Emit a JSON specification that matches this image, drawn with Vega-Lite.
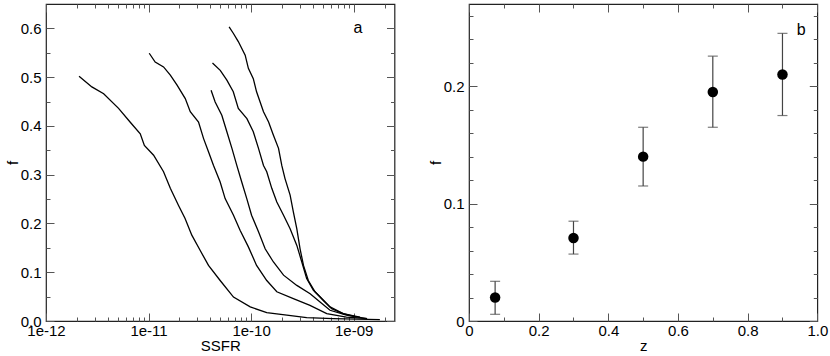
{
  "$schema": "https://vega.github.io/schema/vega-lite/v6.json",
  "padding": {"left": 4, "top": 2, "right": 0, "bottom": 0},
  "background": "white",
  "spacing": 31,
  "config": {
    "view": {"stroke": "#222", "strokeWidth": 1.2},
    "axis": {
      "grid": false, "domain": false, "tickColor": "#555", "tickWidth": 1,
      "labelFont": "Liberation Sans", "labelFontSize": 15, "labelColor": "#000",
      "titleFont": "Liberation Sans", "titleFontSize": 15, "titleFontWeight": "normal", "titleColor": "#000",
      "labelOverlap": false, "labelFlush": false
    }
  },
  "datasets": {
    "curves": [
      {"c": 1, "x": 2.1e-12, "f": 0.502}, {"c": 1, "x": 2.8e-12, "f": 0.480}, {"c": 1, "x": 3.65e-12, "f": 0.466},
      {"c": 1, "x": 5.1e-12, "f": 0.436}, {"c": 1, "x": 6.6e-12, "f": 0.408}, {"c": 1, "x": 8.3e-12, "f": 0.384},
      {"c": 1, "x": 9.1e-12, "f": 0.360}, {"c": 1, "x": 1.12e-11, "f": 0.340}, {"c": 1, "x": 1.4e-11, "f": 0.306},
      {"c": 1, "x": 1.63e-11, "f": 0.272}, {"c": 1, "x": 1.96e-11, "f": 0.237}, {"c": 1, "x": 2.27e-11, "f": 0.210},
      {"c": 1, "x": 2.64e-11, "f": 0.176}, {"c": 1, "x": 3.18e-11, "f": 0.145}, {"c": 1, "x": 3.84e-11, "f": 0.114},
      {"c": 1, "x": 4.99e-11, "f": 0.083}, {"c": 1, "x": 6.73e-11, "f": 0.049}, {"c": 1, "x": 9.8e-11, "f": 0.029},
      {"c": 1, "x": 1.42e-10, "f": 0.017}, {"c": 1, "x": 2.23e-10, "f": 0.012}, {"c": 1, "x": 3.48e-10, "f": 0.007},
      {"c": 1, "x": 6.3e-10, "f": 0.005}, {"c": 1, "x": 1.8e-9, "f": 0.003},

      {"c": 2, "x": 1.015e-11, "f": 0.549}, {"c": 2, "x": 1.16e-11, "f": 0.531}, {"c": 2, "x": 1.4e-11, "f": 0.521},
      {"c": 2, "x": 1.63e-11, "f": 0.504}, {"c": 2, "x": 1.89e-11, "f": 0.484}, {"c": 2, "x": 2.28e-11, "f": 0.456},
      {"c": 2, "x": 2.55e-11, "f": 0.429}, {"c": 2, "x": 3.07e-11, "f": 0.408}, {"c": 2, "x": 3.44e-11, "f": 0.374},
      {"c": 2, "x": 3.84e-11, "f": 0.347}, {"c": 2, "x": 4.3e-11, "f": 0.319}, {"c": 2, "x": 4.99e-11, "f": 0.285},
      {"c": 2, "x": 5.58e-11, "f": 0.251}, {"c": 2, "x": 6.73e-11, "f": 0.217}, {"c": 2, "x": 7.8e-11, "f": 0.186},
      {"c": 2, "x": 9.4e-11, "f": 0.152}, {"c": 2, "x": 1.13e-10, "f": 0.114}, {"c": 2, "x": 1.42e-10, "f": 0.083},
      {"c": 2, "x": 1.78e-10, "f": 0.060}, {"c": 2, "x": 2.58e-10, "f": 0.046}, {"c": 2, "x": 3.75e-10, "f": 0.032},
      {"c": 2, "x": 5.46e-10, "f": 0.015}, {"c": 2, "x": 8.5e-10, "f": 0.008}, {"c": 2, "x": 1.35e-9, "f": 0.005},

      {"c": 3, "x": 4.07e-11, "f": 0.473}, {"c": 3, "x": 4.46e-11, "f": 0.449}, {"c": 3, "x": 5.18e-11, "f": 0.422},
      {"c": 3, "x": 5.8e-11, "f": 0.388}, {"c": 3, "x": 6.5e-11, "f": 0.354}, {"c": 3, "x": 7.25e-11, "f": 0.319},
      {"c": 3, "x": 8.1e-11, "f": 0.285}, {"c": 3, "x": 9.07e-11, "f": 0.251}, {"c": 3, "x": 1.01e-10, "f": 0.217},
      {"c": 3, "x": 1.18e-10, "f": 0.183}, {"c": 3, "x": 1.37e-10, "f": 0.148}, {"c": 3, "x": 1.65e-10, "f": 0.121},
      {"c": 3, "x": 2.07e-10, "f": 0.094}, {"c": 3, "x": 2.79e-10, "f": 0.073}, {"c": 3, "x": 3.76e-10, "f": 0.056},
      {"c": 3, "x": 4.7e-10, "f": 0.039}, {"c": 3, "x": 5.88e-10, "f": 0.022}, {"c": 3, "x": 8.5e-10, "f": 0.012},
      {"c": 3, "x": 1.35e-9, "f": 0.005},

      {"c": 4, "x": 4.2e-11, "f": 0.529}, {"c": 4, "x": 5.0e-11, "f": 0.514}, {"c": 4, "x": 5.8e-11, "f": 0.494},
      {"c": 4, "x": 6.7e-11, "f": 0.470}, {"c": 4, "x": 7.5e-11, "f": 0.436}, {"c": 4, "x": 9.1e-11, "f": 0.415},
      {"c": 4, "x": 1.05e-10, "f": 0.388}, {"c": 4, "x": 1.18e-10, "f": 0.354}, {"c": 4, "x": 1.32e-10, "f": 0.319},
      {"c": 4, "x": 1.42e-10, "f": 0.306}, {"c": 4, "x": 1.59e-10, "f": 0.272}, {"c": 4, "x": 1.78e-10, "f": 0.244},
      {"c": 4, "x": 2.07e-10, "f": 0.217}, {"c": 4, "x": 2.4e-10, "f": 0.189}, {"c": 4, "x": 2.79e-10, "f": 0.155},
      {"c": 4, "x": 3.12e-10, "f": 0.121}, {"c": 4, "x": 3.48e-10, "f": 0.087}, {"c": 4, "x": 4.05e-10, "f": 0.063},
      {"c": 4, "x": 4.88e-10, "f": 0.046}, {"c": 4, "x": 5.88e-10, "f": 0.029}, {"c": 4, "x": 7.9e-10, "f": 0.015},
      {"c": 4, "x": 1.15e-9, "f": 0.008},

      {"c": 5, "x": 6.1e-11, "f": 0.603}, {"c": 5, "x": 6.7e-11, "f": 0.590}, {"c": 5, "x": 7.5e-11, "f": 0.573},
      {"c": 5, "x": 8.75e-11, "f": 0.545}, {"c": 5, "x": 9.4e-11, "f": 0.518}, {"c": 5, "x": 1.05e-10, "f": 0.497},
      {"c": 5, "x": 1.13e-10, "f": 0.470}, {"c": 5, "x": 1.32e-10, "f": 0.429}, {"c": 5, "x": 1.48e-10, "f": 0.408},
      {"c": 5, "x": 1.65e-10, "f": 0.381}, {"c": 5, "x": 1.85e-10, "f": 0.354}, {"c": 5, "x": 1.99e-10, "f": 0.319},
      {"c": 5, "x": 2.14e-10, "f": 0.292}, {"c": 5, "x": 2.4e-10, "f": 0.258}, {"c": 5, "x": 2.58e-10, "f": 0.224},
      {"c": 5, "x": 2.79e-10, "f": 0.189}, {"c": 5, "x": 3.0e-10, "f": 0.148}, {"c": 5, "x": 3.24e-10, "f": 0.114},
      {"c": 5, "x": 3.61e-10, "f": 0.083}, {"c": 5, "x": 4.2e-10, "f": 0.060}, {"c": 5, "x": 5.06e-10, "f": 0.042},
      {"c": 5, "x": 6.1e-10, "f": 0.025}, {"c": 5, "x": 7.9e-10, "f": 0.015}, {"c": 5, "x": 1.07e-9, "f": 0.008}
    ],
    "points": [
      {"z": 0.075, "f": 0.020, "lo": 0.0057, "hi": 0.0338},
      {"z": 0.3, "f": 0.0707, "lo": 0.057, "hi": 0.085},
      {"z": 0.5, "f": 0.140, "lo": 0.115, "hi": 0.165},
      {"z": 0.7, "f": 0.195, "lo": 0.165, "hi": 0.2256},
      {"z": 0.9, "f": 0.210, "lo": 0.175, "hi": 0.245}
    ]
  },
  "hconcat": [
    {
      "width": 348.5, "height": 317,
      "resolve": {"axis": {"x": "independent", "y": "independent"}},
      "layer": [
        {
          "data": {"name": "curves"},
          "mark": {"type": "line", "color": "#000", "strokeWidth": 1.3},
          "encoding": {
            "x": {"field": "x", "type": "quantitative",
                  "scale": {"type": "log", "domain": [1e-12, 2.5e-9], "nice": false},
                  "axis": {"orient": "bottom", "title": "SSFR", "values": [1e-12, 1e-11, 1e-10, 1e-9],
                           "labelExpr": "'1e-' + format(-round(log(datum.value)/LN10), '02d')",
                           "tickSize": -8, "labelPadding": 10, "titlePadding": 0}},
            "y": {"field": "f", "type": "quantitative",
                  "scale": {"domain": [0, 0.65], "nice": false, "zero": false},
                  "axis": {"orient": "left", "title": "f", "values": [0, 0.1, 0.2, 0.3, 0.4, 0.5, 0.6],
                           "format": ".1f", "tickSize": -8, "labelPadding": 13, "titlePadding": 0}},
            "detail": {"field": "c", "type": "nominal"}
          }
        },
        {
          "data": {"values": [{"label": "a"}]},
          "mark": {"type": "text", "font": "Liberation Sans", "fontSize": 16, "color": "#000"},
          "encoding": {
            "x": {"datum": 1.1e-9, "type": "quantitative",
                  "scale": {"type": "log", "domain": [1e-12, 2.5e-9], "nice": false},
                  "axis": {"orient": "top", "title": null, "labels": false, "values": [1e-12, 1e-11, 1e-10, 1e-9], "tickSize": -8}},
            "y": {"datum": 0.6, "type": "quantitative",
                  "scale": {"domain": [0, 0.65], "nice": false, "zero": false},
                  "axis": {"orient": "right", "title": null, "labels": false, "values": [0, 0.1, 0.2, 0.3, 0.4, 0.5, 0.6], "tickSize": -8}},
            "text": {"field": "label"}
          }
        },
        {
          "data": {"name": "curves"},
          "mark": {"type": "point", "opacity": 0},
          "encoding": {
            "x": {"field": "x", "type": "quantitative",
                  "scale": {"type": "log", "domain": [1e-12, 2.5e-9], "nice": false},
                  "axis": {"orient": "bottom", "title": null, "labels": false, "tickSize": -4,
                           "values": [2e-12, 3e-12, 4e-12, 5e-12, 6e-12, 7e-12, 8e-12, 9e-12, 2e-11, 3e-11, 4e-11, 5e-11, 6e-11, 7e-11, 8e-11, 9e-11, 2e-10, 3e-10, 4e-10, 5e-10, 6e-10, 7e-10, 8e-10, 9e-10, 2e-9]}},
            "y": {"field": "f", "type": "quantitative",
                  "scale": {"domain": [0, 0.65], "nice": false, "zero": false},
                  "axis": {"orient": "left", "title": null, "labels": false, "tickSize": -4,
                           "values": [0.05, 0.15, 0.25, 0.35, 0.45, 0.55]}}
          }
        },
        {
          "data": {"name": "curves"},
          "mark": {"type": "point", "opacity": 0},
          "encoding": {
            "x": {"field": "x", "type": "quantitative",
                  "scale": {"type": "log", "domain": [1e-12, 2.5e-9], "nice": false},
                  "axis": {"orient": "top", "title": null, "labels": false, "tickSize": -4,
                           "values": [2e-12, 3e-12, 4e-12, 5e-12, 6e-12, 7e-12, 8e-12, 9e-12, 2e-11, 3e-11, 4e-11, 5e-11, 6e-11, 7e-11, 8e-11, 9e-11, 2e-10, 3e-10, 4e-10, 5e-10, 6e-10, 7e-10, 8e-10, 9e-10, 2e-9]}},
            "y": {"field": "f", "type": "quantitative",
                  "scale": {"domain": [0, 0.65], "nice": false, "zero": false},
                  "axis": {"orient": "right", "title": null, "labels": false, "tickSize": -4,
                           "values": [0.05, 0.15, 0.25, 0.35, 0.45, 0.55]}}
          }
        }
      ]
    },
    {
      "width": 348.3, "height": 317,
      "resolve": {"axis": {"x": "independent", "y": "independent"}},
      "layer": [
        {
          "data": {"name": "points"},
          "mark": {"type": "errorbar", "color": "#444", "thickness": 1.2, "ticks": {"size": 10, "color": "#444"}},
          "encoding": {
            "x": {"field": "z", "type": "quantitative",
                  "scale": {"domain": [0, 1], "nice": false},
                  "axis": {"orient": "bottom", "title": "z", "values": [0, 0.2, 0.4, 0.6, 0.8, 1.0],
                           "labelExpr": "datum.value == 0 ? '0' : format(datum.value, '.1f')",
                           "tickSize": -8, "labelPadding": 10, "titlePadding": 0}},
            "y": {"field": "lo", "type": "quantitative",
                  "scale": {"domain": [0, 0.27], "nice": false, "zero": false},
                  "axis": {"orient": "left", "title": "f", "values": [0, 0.1, 0.2],
                           "labelExpr": "datum.value == 0 ? '0' : format(datum.value, '.1f')",
                           "tickSize": -8, "labelPadding": 13, "titlePadding": 0}},
            "y2": {"field": "hi"}
          }
        },
        {
          "data": {"name": "points"},
          "mark": {"type": "point", "filled": true, "color": "#000", "opacity": 1, "size": 110},
          "encoding": {
            "x": {"field": "z", "type": "quantitative",
                  "scale": {"domain": [0, 1], "nice": false},
                  "axis": {"orient": "top", "title": null, "labels": false, "values": [0, 0.2, 0.4, 0.6, 0.8, 1.0], "tickSize": -8}},
            "y": {"field": "f", "type": "quantitative",
                  "scale": {"domain": [0, 0.27], "nice": false, "zero": false},
                  "axis": {"orient": "right", "title": null, "labels": false, "values": [0, 0.1, 0.2], "tickSize": -8}}
          }
        },
        {
          "data": {"values": [{"label": "b"}]},
          "mark": {"type": "text", "font": "Liberation Sans", "fontSize": 16, "color": "#000"},
          "encoding": {
            "x": {"datum": 0.954, "type": "quantitative",
                  "scale": {"domain": [0, 1], "nice": false},
                  "axis": {"orient": "bottom", "title": null, "labels": false, "tickSize": -4, "values": [0.1, 0.3, 0.5, 0.7, 0.9]}},
            "y": {"datum": 0.2477, "type": "quantitative",
                  "scale": {"domain": [0, 0.27], "nice": false, "zero": false},
                  "axis": {"orient": "left", "title": null, "labels": false, "tickSize": -4,
                           "values": [0.02, 0.04, 0.06, 0.08, 0.12, 0.14, 0.16, 0.18, 0.22, 0.24, 0.26]}},
            "text": {"field": "label"}
          }
        },
        {
          "data": {"name": "points"},
          "mark": {"type": "point", "opacity": 0},
          "encoding": {
            "x": {"field": "z", "type": "quantitative",
                  "scale": {"domain": [0, 1], "nice": false},
                  "axis": {"orient": "top", "title": null, "labels": false, "tickSize": -4, "values": [0.1, 0.3, 0.5, 0.7, 0.9]}},
            "y": {"field": "f", "type": "quantitative",
                  "scale": {"domain": [0, 0.27], "nice": false, "zero": false},
                  "axis": {"orient": "right", "title": null, "labels": false, "tickSize": -4,
                           "values": [0.02, 0.04, 0.06, 0.08, 0.12, 0.14, 0.16, 0.18, 0.22, 0.24, 0.26]}}
          }
        }
      ]
    }
  ]
}
